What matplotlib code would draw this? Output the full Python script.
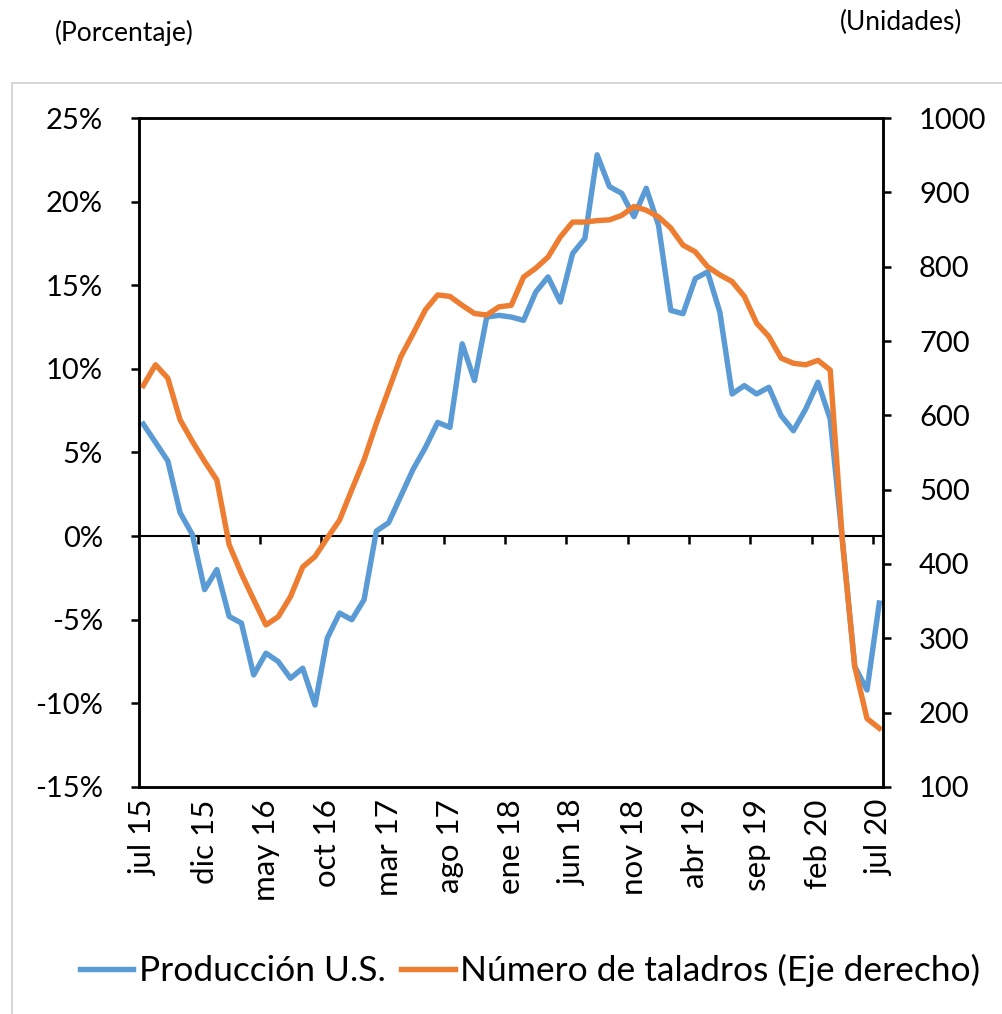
import numpy as np
import matplotlib
matplotlib.use("Agg")
import matplotlib.pyplot as plt
from matplotlib.patches import Rectangle

plt.rcParams['font.family'] = ['Lato', 'DejaVu Sans']

# monthly data jul 15 .. jul 20
prod = [6.7, 5.6, 4.5, 1.4, 0.1, -3.2, -2.0, -4.8, -5.2, -8.3, -7.0, -7.5, -8.5,
        -7.9, -10.1, -6.1, -4.6, -5.0, -3.8, 0.3, 0.8, 2.4, 4.0, 5.3, 6.8, 6.5,
        11.5, 9.3, 13.1, 13.2, 13.1, 12.9, 14.6, 15.5, 14.0, 16.9, 17.8, 22.8,
        20.9, 20.5, 19.1, 20.8, 18.6, 13.5, 13.3, 15.4, 15.8, 13.4, 8.5, 9.0,
        8.5, 8.9, 7.2, 6.3, 7.6, 9.2, 7.0, -0.3, -7.8, -9.2, -4.0]
rigs = [640, 668, 650, 594, 565, 538, 513, 426, 387, 352, 318, 329, 356, 396,
        410, 435, 459, 500, 540, 589, 634, 679, 710, 742, 762, 760, 748, 737,
        735, 746, 748, 786, 798, 813, 840, 860, 860, 862, 863, 869, 881, 876,
        867, 852, 829, 820, 800, 789, 780, 760, 724, 706, 677, 670, 668, 674,
        661, 430, 262, 192, 179]
month_labels = ['jul 15', 'dic 15', 'may 16', 'oct 16', 'mar 17', 'ago 17',
                'ene 18', 'jun 18', 'nov 18', 'abr 19', 'sep 19', 'feb 20',
                'jul 20']
pct_ticks = [-15, -10, -5, 0, 5, 10, 15, 20, 25]
rig_ticks = [100, 200, 300, 400, 500, 600, 700, 800, 900, 1000]

blue = '#5B9BD5'
orange = '#ED7D31'
fs = 21

x = np.arange(len(prod))

fig = plt.figure(figsize=(10.02, 10.14), dpi=100)
# light chart-area border
fig.patches.append(Rectangle((12 / 1002, -0.01), 1.0, 0.928, transform=fig.transFigure,
                             fill=False, edgecolor='#d0d0d0', linewidth=1.2))

ax = fig.add_axes([0.1387, 0.2239, 0.8812 - 0.1387, 0.8836 - 0.2239])
ax2 = ax.twinx()

l1, = ax.plot(x, prod, color=blue, lw=3.9, solid_joinstyle='round', label='Producción U.S.')
l2, = ax2.plot(x, rigs, color=orange, lw=3.9, solid_joinstyle='round',
               label='Número de taladros (Eje derecho)')

ax.set_xlim(-0.35, 60.3)
ax.set_ylim(-15, 25)
ax2.set_ylim(100, 1000)

ax.set_yticks(pct_ticks)
ax.set_yticklabels(['%d%%' % v for v in pct_ticks])
ax2.set_yticks(rig_ticks)

ax.set_xticks(x[::5])
ax.set_xticklabels(month_labels, rotation=90)
ax.tick_params(axis='x', length=0, pad=9, labelsize=22.5)
ax.tick_params(axis='y', direction='out', length=6, width=1.8, pad=20, labelsize=fs)
ax2.tick_params(axis='y', direction='out', length=6, width=1.8, pad=20, labelsize=fs)

for a in (ax, ax2):
    for s in a.spines.values():
        s.set_linewidth(1.8)
        s.set_color('black')

# category axis crossing at 0 %
zero_axis = ax.secondary_xaxis(0.375)
zero_axis.set_xticks(np.arange(4.5, 60, 5))
zero_axis.tick_params(axis='x', direction='out', length=6, width=1.8, labelbottom=False)
zero_axis.spines['bottom'].set_linewidth(1.5)

fig.text(55 / 1002, 1 - 33 / 1014, '(Porcentaje)', fontsize=19, va='center', ha='left')
fig.text(962 / 1002, 1 - 22 / 1014, '(Unidades)', fontsize=19, va='center', ha='right')

fig.legend(handles=[l1, l2], loc='center', bbox_to_anchor=(0.529, 0.043), ncol=2,
           frameon=False, fontsize=25.5, handlelength=1.5, handletextpad=0.15,
           columnspacing=0.45)

fig.savefig('out.png', dpi=100)
